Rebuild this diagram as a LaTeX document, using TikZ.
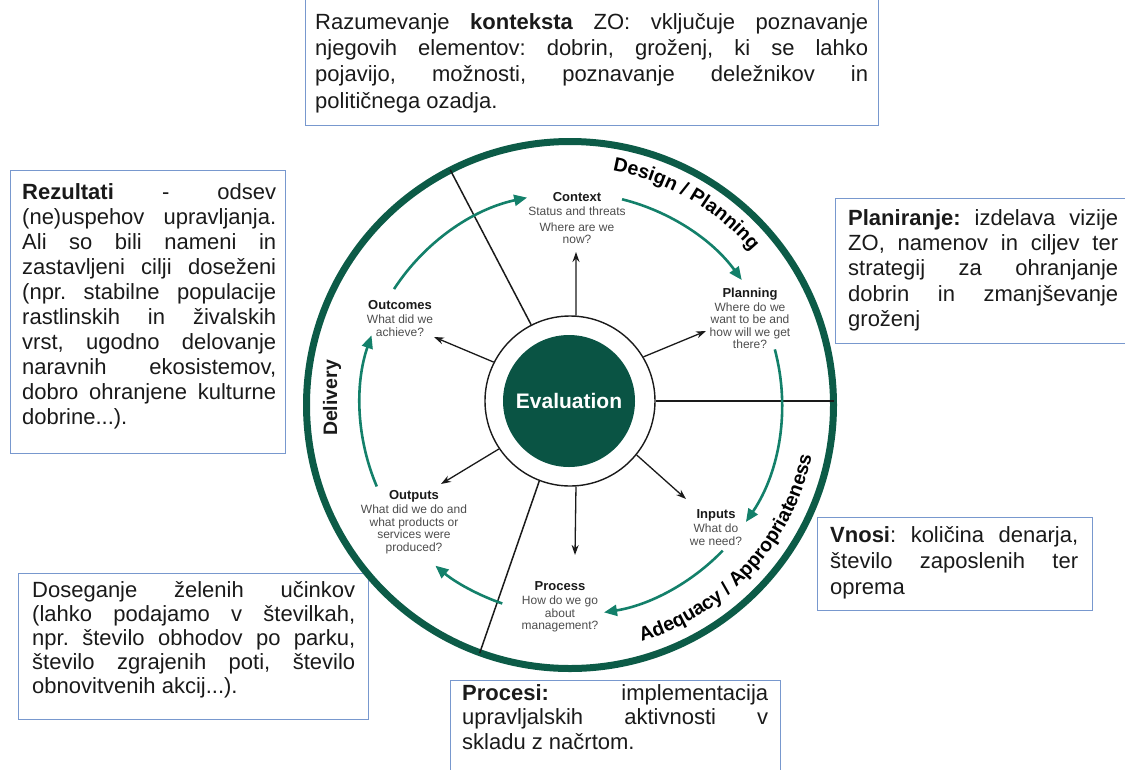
\documentclass[tikz,border=0pt]{standalone}
\usepackage{fontspec}
\setmainfont{Liberation Sans}
\usetikzlibrary{arrows.meta,decorations.text}
\definecolor{ringgreen}{HTML}{0C5B47}
\definecolor{evalgreen}{HTML}{0A5444}
\definecolor{arcgreen}{HTML}{13806A}
\definecolor{boxblue}{HTML}{7898CE}
\definecolor{subgray}{HTML}{4D4D4D}
\definecolor{inkblack}{HTML}{1A1A1A}
\tolerance=10000
\hbadness=10000
\hyphenpenalty=10000
\frenchspacing
\newcommand{\stagehead}[1]{{\bfseries\fontsize{13}{13}\selectfont\color{inkblack}#1}}
\tikzset{
  panel/.style={draw=boxblue, line width=1.4pt, anchor=north west, inner sep=0pt},
  paneltext/.style={anchor=north west, inner sep=0pt, align=justify, text=inkblack},
  spoke/.style={draw=inkblack, line width=1.3pt, -{Stealth[length=10pt,width=7pt]}},
  divider/.style={draw=inkblack, line width=1.5pt, shorten >=3pt},
  cyclearrow/.style={draw=arcgreen, line width=2.6pt, -{Triangle[length=13pt,width=11pt]}},
  stage/.style={anchor=north, inner sep=0pt, align=center, text=subgray, font=\fontsize{12}{12.5}\selectfont},
  ringlabel/.style={decorate, decoration={text along path, text align=center, text={#1}}},
}
\begin{document}
\begin{tikzpicture}[x=1pt,y=-1pt]
\useasboundingbox (0,0) rectangle (1125,769);

% text panels
\node[panel, minimum width=573pt, minimum height=131pt] (ctxBox) at (305,-6) {};
\node[paneltext, text width=553pt, font=\fontsize{22}{26.3}\selectfont] (ctxText) at (315,10.6) {\strut Razumevanje \textbf{konteksta} ZO: vključuje poznavanje\linebreak
njegovih elementov: dobrin, groženj, ki se lahko\linebreak
pojavijo, možnosti, poznavanje deležnikov in\linebreak
političnega ozadja.};

\node[panel, minimum width=275pt, minimum height=283pt] (rezBox) at (10,170) {};
\node[paneltext, text width=254pt, font=\fontsize{22}{25}\selectfont] (rezText) at (22,181.5) {\strut\textbf{Rezultati} - odsev\linebreak
(ne)uspehov upravljanja.\linebreak
Ali so bili nameni in\linebreak
zastavljeni cilji doseženi\linebreak
(npr. stabilne populacije\linebreak
rastlinskih in živalskih\linebreak
vrst, ugodno delovanje\linebreak
naravnih ekosistemov,\linebreak
dobro ohranjene kulturne\linebreak
dobrine...).};

\node[panel, minimum width=300pt, minimum height=145pt] (planBox) at (835,198) {};
\node[paneltext, text width=270pt, font=\fontsize{22}{25.3}\selectfont] (planText) at (848,207.3) {\strut\textbf{Planiranje:} izdelava vizije\linebreak
ZO, namenov in ciljev ter\linebreak
strategij za ohranjanje\linebreak
dobrin in zmanjševanje\linebreak
groženj};

\node[panel, minimum width=275pt, minimum height=93pt] (vnosBox) at (817,517) {};
\node[paneltext, text width=248pt, font=\fontsize{22}{26.3}\selectfont] (vnosText) at (830,523.6) {\strut\textbf{Vnosi}: količina denarja,\linebreak
število zaposlenih ter\linebreak
oprema};

\node[panel, minimum width=350pt, minimum height=146pt] (dosBox) at (18,573) {};
\node[paneltext, text width=323pt, font=\fontsize{22}{24}\selectfont] (dosText) at (32,580.2) {\strut Doseganje želenih učinkov\linebreak
(lahko podajamo v številkah,\linebreak
npr. število obhodov po parku,\linebreak
število zgrajenih poti, število\linebreak
obnovitvenih akcij...).};

\node[panel, minimum width=330pt, minimum height=100pt] (procBox) at (450,680) {};
\node[paneltext, text width=306pt, font=\fontsize{22}{24.5}\selectfont] (procText) at (462,682.85) {\strut\textbf{Procesi:} implementacija\linebreak
upravljalskih aktivnosti v\linebreak
skladu z načrtom.};

% wheel
\node[circle, draw=ringgreen, line width=7pt, minimum size=527pt, inner sep=0pt] (outer) at (570,405) {};
\node[circle, draw=inkblack, line width=1.4pt, fill=white, minimum size=170pt, inner sep=0pt] (ring) at (570,401) {};
\node[circle, fill=evalgreen, minimum size=132pt, inner sep=0pt, text=white, font=\bfseries\fontsize{21}{21}\selectfont] (eval) at (569,401) {Evaluation};

\draw[divider] (ring.117) -- (outer.117);
\draw[divider, line width=2.4pt] (ring.0) -- (ring.0 -| outer.east);
\draw[divider] (ring.-111) -- (outer.-110);

% stage labels
\node[stage] (context) at (577,192) {\stagehead{Context}\\[2pt]Status and threats\\[3pt]Where are we\\now?};
\node[stage] (planning) at (750,288) {\stagehead{Planning}\\[1pt]Where do we\\want to be and\\how will we get\\there?};
\node[stage] (outcomes) at (400,300) {\stagehead{Outcomes}\\[2pt]What did we\\achieve?};
\node[stage] (outputs) at (414,490) {\stagehead{Outputs}\\[2pt]What did we do and\\what products or\\services were\\produced?};
\node[stage] (process) at (560,581) {\stagehead{Process}\\[2pt]How do we go\\about\\management?};
\node[stage] (inputs) at (716,509) {\stagehead{Inputs}\\[2pt]What do\\we need?};

% spokes
\coordinate (tipContext) at (576,252);
\coordinate (tipOutcomes) at (434,337);
\coordinate (tipPlanning) at (706,331);
\coordinate (tipOutputs) at (441,484);
\coordinate (tipProcess) at (575,555);
\coordinate (tipInputs) at (686,499);
\draw[spoke] (ring.86) -- (tipContext);
\draw[spoke] (ring.153) -- (tipOutcomes);
\draw[spoke] (ring.31) -- (tipPlanning);
\draw[spoke] (ring.-146) -- (tipOutputs);
\draw[spoke] (ring.-86) -- (tipProcess);
\draw[spoke] (ring.-39) -- (tipInputs);

% cycle arrows
\coordinate (arcC) at (571,404);
\path (arcC) ++(-147:211) coordinate (aOutCtx);
\path (arcC) ++(-76:211) coordinate (aCtxPlan);
\path (arcC) ++(-15:211) coordinate (aPlanIn);
\path (arcC) ++(44:211) coordinate (aInProc);
\path (arcC) ++(109:211) coordinate (aProcOut);
\path (arcC) ++(157:211) coordinate (aOutOut);
\draw[cyclearrow] (aOutCtx) arc[start angle=-147, end angle=-102, radius=211];
\draw[cyclearrow] (aCtxPlan) arc[start angle=-76, end angle=-36, radius=211];
\draw[cyclearrow] (aPlanIn) arc[start angle=-15, end angle=34, radius=211];
\draw[cyclearrow] (aInProc) arc[start angle=44, end angle=81, radius=211];
\draw[cyclearrow] (aProcOut) arc[start angle=109, end angle=130, radius=211];
\draw[cyclearrow] (aOutOut) arc[start angle=157, end angle=199, radius=211];

% ring labels
\path[ringlabel={|\bfseries\fontsize{19.5}{19.5}\selectfont|Design / Planning}] (outer.center) ++(-81:238) arc[start angle=-81, end angle=-39, radius=238];
\path[ringlabel={|\bfseries\fontsize{19.5}{19.5}\selectfont|Adequacy / Appropriateness}] (outer.center) ++(76:247) arc[start angle=76, end angle=9, radius=247];
\node[rotate=90, inner sep=0pt, text=inkblack, font=\bfseries\fontsize{19.5}{19.5}\selectfont] (delivery) at (332,398) {Delivery};
\end{tikzpicture}
\end{document}
